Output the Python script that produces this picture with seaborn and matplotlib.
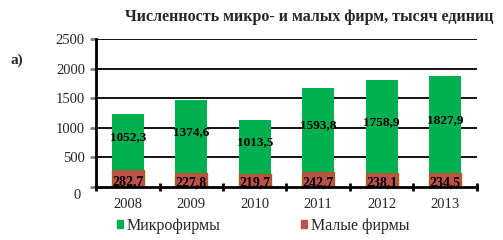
import numpy as np
import pandas as pd
import matplotlib
matplotlib.use("Agg")
import matplotlib.pyplot as plt
import matplotlib.transforms as mtransforms
import seaborn as sns
from matplotlib.patches import Patch

years = ["2008", "2009", "2010", "2011", "2012", "2013"]
# small firms (red, bottom)
small = [282.7, 227.8, 219.7, 242.7, 238.1, 234.5]
# top of green bars as drawn in the picture
micro_top = [1232, 1469, 1130, 1672, 1808, 1876]
micro_labels = ["1052,3", "1374,6", "1013,5", "1593,8", "1758,9", "1827,9"]
small_labels = ["282,7", "227,8", "219,7", "242,7", "238,1", "234,5"]
yticks = [0, 500, 1000, 1500, 2000, 2500]

sns.set_style("white")
plt.rcParams['font.family'] = ['Liberation Serif', 'DejaVu Serif']

df = pd.DataFrame({"year": years, "small": small, "top": micro_top})

fig = plt.figure(figsize=(5.03, 2.40), dpi=100)
ax = fig.add_axes([0.191, 0.222, 0.757, 0.614])

#-------- grid lines behind bars --------
for v in yticks[1:]:
    ax.axhline(v, color="black", lw=1.3, zorder=0)

#-------- green (whole bar) then red over it --------
sns.barplot(data=df, x="year", y="top", color="#00B050", saturation=1,
            width=0.5, errorbar=None, ax=ax, zorder=2, linewidth=0)
sns.barplot(data=df, x="year", y="small", color="#C0504D", saturation=1,
            width=0.5, errorbar=None, ax=ax, zorder=3,
            edgecolor="#99661A", linewidth=1.0)

for i in range(len(years)):
    mid = (small[i] + micro_top[i]) / 2 + 80
    ax.text(i, mid, micro_labels[i], ha="center", va="center",
            fontsize=9.5, fontweight="bold", color="black", zorder=5)
    ax.text(i, small[i] * 0.28, small_labels[i], ha="center", va="center",
            fontsize=10, fontweight="bold", color="black", zorder=5)

ax.set_ylim(0, 2500)
ax.set_xlim(-0.5, 5.5)
ax.set_xlabel("")
ax.set_ylabel("")
ax.set_yticks(yticks)
ax.set_yticklabels([str(v) for v in yticks], fontsize=10.5)
ax.tick_params(axis="y", length=4, width=2, color="#808080", pad=4, direction="out", left=True)

# x ticks between categories
ax.set_xticks(np.arange(-0.5, 6.0, 1.0), minor=True)
ax.set_xticks(range(len(years)))
ax.set_xticklabels(years, fontsize=10.5)
ax.tick_params(axis="x", which="major", length=0, pad=8)
ax.tick_params(axis="x", which="minor", length=6, width=2, color="black",
               direction="inout", bottom=True)

# the "0" label sits a bit lower and left in the original
zero_lab = ax.get_yticklabels()[0]
zero_lab.set_transform(zero_lab.get_transform() +
                       mtransforms.ScaledTranslation(-3 / 72, -5 / 72, fig.dpi_scale_trans))

for s in ["top", "right"]:
    ax.spines[s].set_visible(False)
for s in ["left", "bottom"]:
    ax.spines[s].set_linewidth(2)
    ax.spines[s].set_color("black")
    ax.spines[s].set_zorder(6)

#-------- legend --------
handles = [Patch(color="#00B050", label="Микрофирмы"),
           Patch(color="#C0504D", label="Малые фирмы")]
fig.legend(handles=handles, loc="center", bbox_to_anchor=(0.523, 0.058),
           ncol=2, frameon=False, fontsize=11.5, handlelength=0.4,
           handleheight=0.4, handletextpad=0.25, columnspacing=5)

fig.text(0.981, 0.93, "Численность микро- и малых фирм, тысяч единиц",
         ha="right", va="center", fontsize=11.5, fontweight="bold")
fig.text(0.02, 0.75, "а)", ha="left", va="center", fontsize=11, fontweight="bold")

fig.savefig("out.png", dpi=100)
